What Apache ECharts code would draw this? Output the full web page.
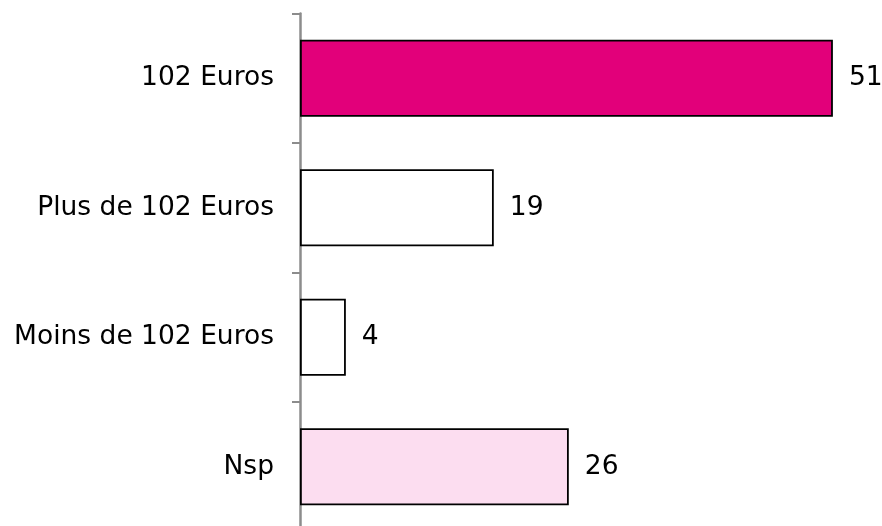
<!DOCTYPE html>
<html>
<head>
<meta charset="utf-8">
<script src="https://cdn.jsdelivr.net/npm/echarts@6/dist/echarts.min.js"></script>
<style>
  html, body { margin: 0; padding: 0; background: #fff; }
</style>
</head>
<body>
<div id="main" style="width: 882px;height:526px;"></div>
<script type="text/javascript">
    // données (en %)
    var categories = ['102 Euros', 'Plus de 102 Euros', 'Moins de 102 Euros', 'Nsp'];
    var values = [51.15, 18.6, 4.4, 25.8];
    var colors = ['#E2007A', '#FFFFFF', '#FFFFFF', '#FCDDF0'];

    var barData = [];
    for (var i = 0; i < values.length; i++) {
        barData.push({
            value: values[i],
            itemStyle: { color: colors[i] }
        });
    }

    var myChart = echarts.init(document.getElementById('main'));
    var option = {
        animation: false,
        backgroundColor: '#fff',
        grid: {
            left: 300,
            right: 9,
            top: 13.5,
            height: 518,
            outerBoundsMode: 'none'
        },
        xAxis: {
            type: 'value',
            min: 0,
            max: 55,
            show: false
        },
        yAxis: {
            type: 'category',
            inverse: true,
            data: categories,
            axisLine: { show: true, lineStyle: { color: '#8c8c8c', width: 2.5 } },
            axisTick: { show: true, length: 8, lineStyle: { color: '#8c8c8c', width: 2 } },
            axisLabel: {
                margin: 26,
                fontFamily: 'DejaVu Sans',
                fontSize: 26.5,
                color: '#000'
            }
        },
        series: [{
            type: 'bar',
            data: barData,
            barWidth: 77,
            itemStyle: { borderColor: '#000', borderWidth: 1.8 },
            label: {
                show: true,
                position: 'right',
                distance: 16,
                fontFamily: 'DejaVu Sans',
                fontSize: 26.5,
                color: '#000',
                formatter: function (p) { return Math.round(p.value); }
            }
        }]
    };
    myChart.setOption(option);
</script>
</body>
</html>
